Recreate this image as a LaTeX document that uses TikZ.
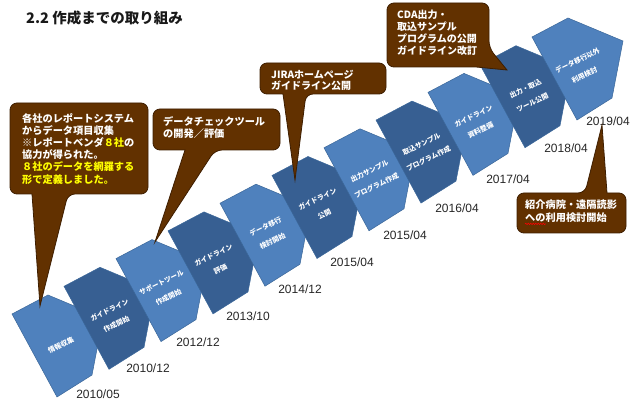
\documentclass[tikz,border=0pt]{standalone}
\usepackage{fontspec}
\setmainfont{Liberation Sans}
\newfontfamily\jp{Noto Sans CJK JP}
\usetikzlibrary{calc,decorations.pathmorphing}
\definecolor{lightb}{HTML}{4F81BD}
\definecolor{darkb}{HTML}{375F92}
\definecolor{edgeb}{HTML}{3B6799}
\definecolor{brownc}{HTML}{623100}
\definecolor{browne}{HTML}{3E1E00}
\definecolor{yel}{HTML}{FFFF00}
\tikzset{
  stepshape/.style={draw=edgeb, line width=0.5pt, line join=miter},
  lightstep/.style={stepshape, fill=lightb},
  darkstep/.style={stepshape, fill=darkb},
  steptext/.style={text=white, font=\jp\bfseries\fontsize{6.9}{8}\selectfont, align=center, rotate=26, inner sep=0},
  datelabel/.style={font=\fontsize{12}{12}\selectfont, text=black!85, inner sep=0},
  callout/.style={fill=brownc, draw=browne, line width=0.8pt},
  callouttext/.style={text=white, font=\jp\bfseries\fontsize{10.2}{12.2}\selectfont, align=left, anchor=north west, inner sep=0},
}
\begin{document}
\begin{tikzpicture}[x=1pt,y=-1pt]
\useasboundingbox (0,0) rectangle (641,414);
% title
\node[anchor=west, inner sep=0, font=\jp\bfseries\fontsize{14.5}{16}\selectfont, text=black!90] (title) at (26,18) {2.2 作成までの取り組み};
% steps
\foreach \i/\st/\txt in {
  0/lightstep/{情報収集},
  1/darkstep/{ガイドライン\\[8pt]作成開始},
  2/lightstep/{サポートツール\\[8pt]作成開始},
  3/darkstep/{ガイドライン\\[8pt]評価},
  4/lightstep/{データ移行\\[8pt]検討開始},
  5/darkstep/{ガイドライン\\[8pt]公開},
  6/lightstep/{出力サンプル\\[8pt]プログラム作成},
  7/darkstep/{取込サンプル\\[8pt]プログラム作成},
  8/lightstep/{ガイドライン\\[8pt]資料整備},
  9/darkstep/{出力・取込\\[8pt]ツール公開},
  10/lightstep/{データ移行以外\\[8pt]利用検討}}{
  \pgfmathsetmacro{\bx}{57+52*\i}
  \pgfmathsetmacro{\by}{397-27.7*\i}
  \draw[\st] (\bx-45,\by-83) -- (\bx-9,\by-102) -- (\bx+46,\by-79) -- (\bx+35,\by-22) -- (\bx,\by) -- cycle;
  \node[steptext] (s\i) at (\bx+4,\by-52) {\txt};
}
% dates
\node[datelabel] (d1) at (98,394) {2010/05};
\node[datelabel] (d2) at (148,368) {2010/12};
\node[datelabel] (d3) at (198,342) {2012/12};
\node[datelabel] (d4) at (248,316) {2013/10};
\node[datelabel] (d5) at (300,289) {2014/12};
\node[datelabel] (d6) at (352,262) {2015/04};
\node[datelabel] (d7) at (405,235) {2015/04};
\node[datelabel] (d8) at (457,208) {2016/04};
\node[datelabel] (d9) at (508,179) {2017/04};
\node[datelabel] (d10) at (566,148) {2018/04};
\node[datelabel] (d11) at (608,121) {2019/04};
% callouts
\draw[callout] (80,103) [rounded corners=7pt] -- (148,103) -- (148,194) -- (68,194) [sharp corners] -- (40,306) -- (32,194) [rounded corners=7pt] -- (10,194) -- (10,103) -- cycle;
\node[callouttext] (c1t) at (22,113) {各社のレポートシステム\\からデータ項目収集\\※レポートベンダ\textcolor{yel}{８社}の\\協力が得られた。\\\textcolor{yel}{８社のデータを網羅する}\\\textcolor{yel}{形で定義しました。}};
\draw[callout] (210,109) [rounded corners=7pt] -- (280,109) -- (280,150) -- (215,150) [sharp corners] -- (155,242) -- (185,150) [rounded corners=7pt] -- (153,150) -- (153,109) -- cycle;
\node[callouttext] (c2t) at (163,116) {データチェックツール\\の開発／評価};
\draw[callout] (320,63) [rounded corners=7pt] -- (386,63) -- (386,94) -- (306,94) [sharp corners] -- (295,180) -- (283,94) [rounded corners=7pt] -- (260,94) -- (260,63) -- cycle;
\node[callouttext, font=\jp\bfseries\fontsize{10}{11.3}\selectfont] (c3t) at (271,70) {JIRAホームページ\\ガイドライン公開};
\draw[callout] (440,3) [rounded corners=7pt] -- (489,3) -- (489,48) [sharp corners] -- (507,70) -- (476,67) [rounded corners=7pt] -- (387,67) -- (387,3) -- cycle;
\node[callouttext, font=\jp\bfseries\fontsize{10}{11.8}\selectfont] (c4t) at (397,10) {CDA出力・\\取込サンプル\\プログラムの公開\\ガイドライン改訂};
\draw[callout] (560,233) [rounded corners=7pt] -- (517,233) -- (517,193) -- (585,193) [sharp corners] -- (602,125) -- (607,193) [rounded corners=7pt] -- (626,193) -- (626,233) -- cycle;
\node[callouttext] (c5t) at (525,200) {紹介病院・遠隔読影\\への利用検討開始};
\coordinate (sq1) at ($(c5t.south west)+(0,1.5)$);
\coordinate (sq2) at ($(sq1)+(21,0)$);
\draw[red, line width=0.6pt, decorate, decoration={snake, amplitude=0.7pt, segment length=2.5pt}] (sq1) -- (sq2);
\end{tikzpicture}
\end{document}
